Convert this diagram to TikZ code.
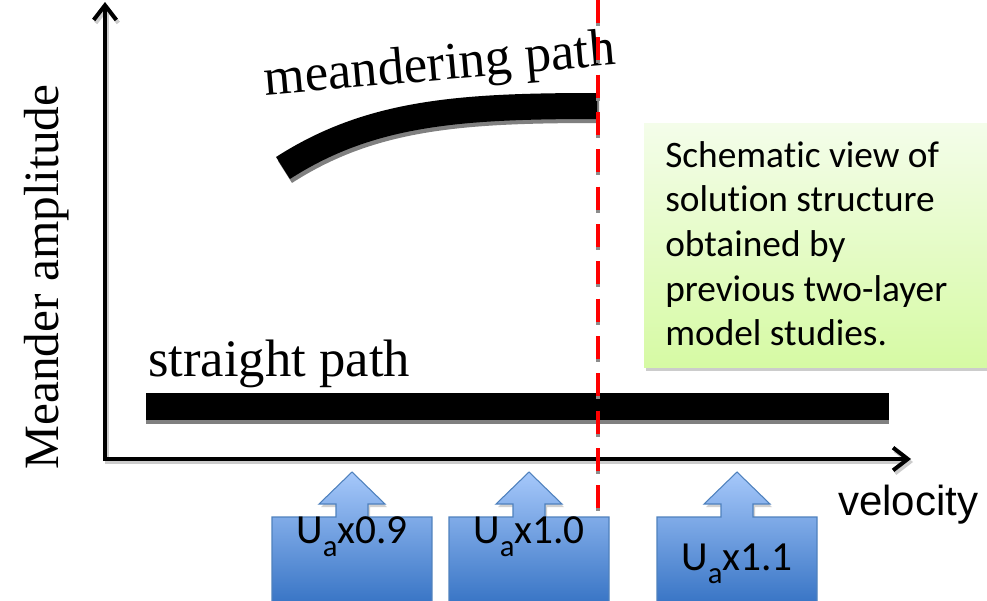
\documentclass[tikz,border=0pt]{standalone}
\usepackage{fontspec}
\setmainfont{Liberation Serif}
\newfontfamily\calibrifont[RawFeature={-liga;-clig;-dlig}]{Carlito}
\newfontfamily\arialfont{Liberation Sans}
\usetikzlibrary{arrows.meta}

\definecolor{boxtop}{RGB}{244,253,234}
\definecolor{boxbot}{RGB}{214,250,164}
\definecolor{arrtop}{RGB}{166,200,250}
\definecolor{arrbot}{RGB}{58,118,198}
\definecolor{arredge}{RGB}{79,129,189}

\tikzset{
  axisline/.style={line width=3pt, line join=miter,
    {Straight Barb[length=11pt,width=17pt,line width=3pt]}-{Straight Barb[length=11pt,width=17pt,line width=3pt]}},
  pathline/.style={line width=19.5pt, line cap=butt},
  shadowline/.style={draw=black!50},
  reddash/.style={draw=red, line width=3.7pt, dash pattern=on 17.2pt off 10.8pt},
  callout/.style={top color=arrtop, bottom color=arrbot, draw=arredge, line width=0.8pt},
  serlabel/.style={font=\fontsize{39.5}{45}\selectfont, inner sep=0pt},
  ualabel/.style={font=\calibrifont\fontsize{31}{36}\selectfont, inner sep=0pt, anchor=base}
}
\newcommand{\ua}[1]{U\raisebox{-0.32em}{\fontsize{23}{23}\selectfont a}x#1}

\begin{document}
\begin{tikzpicture}[x=0.75pt, y=-0.75pt]
\useasboundingbox (0,0) rectangle (987,600);
% axes
\coordinate (origin) at (105,459);
\coordinate (ytip) at (105,2);
\coordinate (xtip) at (911,459);
\draw[axisline, draw=black!20, transform canvas={shift={(2,3)}}] (ytip) -- (origin) -- (xtip);
\draw[axisline] (ytip) -- (origin) -- (xtip);
\node[font=\fontsize{37}{42}\selectfont, inner sep=0pt, rotate=90, anchor=base] (yname) at (58,277) {Meander amplitude};
\node[font=\arialfont\fontsize{31.5}{36}\selectfont, inner sep=0pt, anchor=base west] (xname) at (838,515) {velocity};

% straight path
\fill[black!50] (146,420) rectangle (889,424);
\fill (146,393) rectangle (889,420);
\node[serlabel, anchor=base west] (straight) at (148,376) {straight path};

% meandering path
\draw[pathline, shadowline, transform canvas={shift={(2,4)}}] (283,168) .. controls (370,112) and (460,106) .. (597,106);
\draw[pathline] (283,168) .. controls (370,112) and (460,106) .. (597,106);
\node[serlabel, anchor=base, rotate=5] (meander) at (441,80) {meandering path};

% critical velocity
\coordinate (crittop) at (598,0);
\coordinate (critbot) at (598,510);
\draw[reddash, draw=black!45, transform canvas={shift={(0,3)}}] (crittop) -- (critbot);
\draw[reddash] (crittop) -- (critbot);

% note box
\fill[black!20] (646,367) rectangle (987,371);
\shade[top color=boxtop, bottom color=boxbot] (644,123) rectangle (987,367);
\node[font=\calibrifont\fontsize{28}{33.5}\selectfont, inner sep=0pt, anchor=north west, align=left] (note) at (665,141)
  {Schematic view of\\solution structure\\obtained by\\previous two-layer\\model studies.};

% velocity markers
\foreach \xl/\val/\yb [count=\i] in {272/0.9/543, 449/1.0/543, 657/1.1/570}{
  \fill[black!18, transform canvas={shift={(2,3)}}] (\xl+64,517) -- ++(0,-13) -- ++(-17,0) -- ++(33,-32) -- ++(33,32) -- ++(-17,0) -- ++(0,13) -- cycle;
  \path[callout] (\xl,601) -- ++(0,-84) -- ++(64,0) -- ++(0,-13) -- ++(-17,0) -- ++(33,-32)
    -- ++(33,32) -- ++(-17,0) -- ++(0,13) -- ++(64,0) -- ++(0,84);
  \node[ualabel] (ua\i) at (\xl+80,\yb) {\ua{\val}};
}
\end{tikzpicture}
\end{document}
